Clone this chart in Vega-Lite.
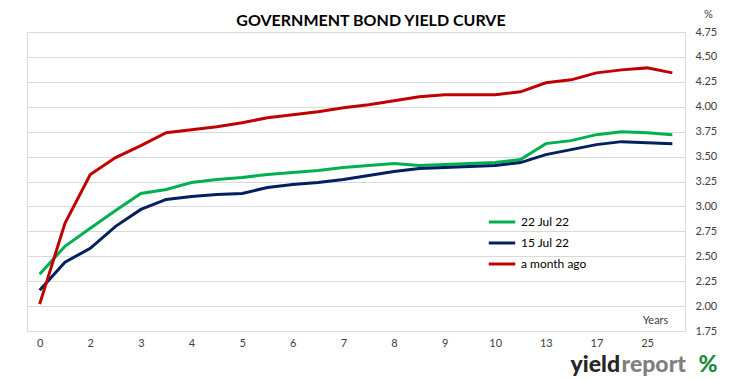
{
  "$schema": "https://vega.github.io/schema/vega-lite/v6.json",
  "width": 658,
  "height": 299,
  "autosize": {"type": "none"},
  "padding": {"left": 27, "top": 32, "right": 45, "bottom": 50},
  "background": "white",
  "config": {"view": {"stroke": "#d9d9d9", "strokeWidth": 1}, "font": "Lato"},
  "title": {"text": "GOVERNMENT BOND YIELD CURVE", "fontSize": 16, "fontWeight": "bold", "color": "#000000", "anchor": "middle", "dx": 15, "offset": -21, "font": "Lato"},
  "layer": [
    {
      "data": {"values": [
        {"term":"0","series":"22 Jul 22","yield":2.32},{"term":"1","series":"22 Jul 22","yield":2.60},{"term":"2","series":"22 Jul 22","yield":2.78},{"term":"2.5","series":"22 Jul 22","yield":2.96},{"term":"3","series":"22 Jul 22","yield":3.13},{"term":"3.5","series":"22 Jul 22","yield":3.17},{"term":"4","series":"22 Jul 22","yield":3.24},{"term":"4.5","series":"22 Jul 22","yield":3.27},{"term":"5","series":"22 Jul 22","yield":3.29},{"term":"5.5","series":"22 Jul 22","yield":3.32},{"term":"6","series":"22 Jul 22","yield":3.34},{"term":"6.5","series":"22 Jul 22","yield":3.36},{"term":"7","series":"22 Jul 22","yield":3.39},{"term":"7.5","series":"22 Jul 22","yield":3.41},{"term":"8","series":"22 Jul 22","yield":3.43},{"term":"8.5","series":"22 Jul 22","yield":3.41},{"term":"9","series":"22 Jul 22","yield":3.42},{"term":"9.5","series":"22 Jul 22","yield":3.43},{"term":"10","series":"22 Jul 22","yield":3.44},{"term":"11.5","series":"22 Jul 22","yield":3.47},{"term":"13","series":"22 Jul 22","yield":3.63},{"term":"15","series":"22 Jul 22","yield":3.66},{"term":"17","series":"22 Jul 22","yield":3.72},{"term":"20","series":"22 Jul 22","yield":3.75},{"term":"25","series":"22 Jul 22","yield":3.74},{"term":"30","series":"22 Jul 22","yield":3.72},
        {"term":"0","series":"15 Jul 22","yield":2.16},{"term":"1","series":"15 Jul 22","yield":2.44},{"term":"2","series":"15 Jul 22","yield":2.58},{"term":"2.5","series":"15 Jul 22","yield":2.80},{"term":"3","series":"15 Jul 22","yield":2.97},{"term":"3.5","series":"15 Jul 22","yield":3.07},{"term":"4","series":"15 Jul 22","yield":3.10},{"term":"4.5","series":"15 Jul 22","yield":3.12},{"term":"5","series":"15 Jul 22","yield":3.13},{"term":"5.5","series":"15 Jul 22","yield":3.19},{"term":"6","series":"15 Jul 22","yield":3.22},{"term":"6.5","series":"15 Jul 22","yield":3.24},{"term":"7","series":"15 Jul 22","yield":3.27},{"term":"7.5","series":"15 Jul 22","yield":3.31},{"term":"8","series":"15 Jul 22","yield":3.35},{"term":"8.5","series":"15 Jul 22","yield":3.38},{"term":"9","series":"15 Jul 22","yield":3.39},{"term":"9.5","series":"15 Jul 22","yield":3.40},{"term":"10","series":"15 Jul 22","yield":3.41},{"term":"11.5","series":"15 Jul 22","yield":3.44},{"term":"13","series":"15 Jul 22","yield":3.52},{"term":"15","series":"15 Jul 22","yield":3.57},{"term":"17","series":"15 Jul 22","yield":3.62},{"term":"20","series":"15 Jul 22","yield":3.65},{"term":"25","series":"15 Jul 22","yield":3.64},{"term":"30","series":"15 Jul 22","yield":3.63},
        {"term":"0","series":"a month ago","yield":2.02},{"term":"1","series":"a month ago","yield":2.83},{"term":"2","series":"a month ago","yield":3.32},{"term":"2.5","series":"a month ago","yield":3.49},{"term":"3","series":"a month ago","yield":3.61},{"term":"3.5","series":"a month ago","yield":3.74},{"term":"4","series":"a month ago","yield":3.77},{"term":"4.5","series":"a month ago","yield":3.80},{"term":"5","series":"a month ago","yield":3.84},{"term":"5.5","series":"a month ago","yield":3.89},{"term":"6","series":"a month ago","yield":3.92},{"term":"6.5","series":"a month ago","yield":3.95},{"term":"7","series":"a month ago","yield":3.99},{"term":"7.5","series":"a month ago","yield":4.02},{"term":"8","series":"a month ago","yield":4.06},{"term":"8.5","series":"a month ago","yield":4.10},{"term":"9","series":"a month ago","yield":4.12},{"term":"9.5","series":"a month ago","yield":4.12},{"term":"10","series":"a month ago","yield":4.12},{"term":"11.5","series":"a month ago","yield":4.15},{"term":"13","series":"a month ago","yield":4.24},{"term":"15","series":"a month ago","yield":4.27},{"term":"17","series":"a month ago","yield":4.34},{"term":"20","series":"a month ago","yield":4.37},{"term":"25","series":"a month ago","yield":4.39},{"term":"30","series":"a month ago","yield":4.34}
      ]},
      "mark": {"type": "line", "strokeWidth": 3},
      "encoding": {
        "x": {
          "field": "term", "type": "ordinal",
          "scale": {"type": "point", "padding": 0.5, "domain": ["0","1","2","2.5","3","3.5","4","4.5","5","5.5","6","6.5","7","7.5","8","8.5","9","9.5","10","11.5","13","15","17","20","25","30"]},
          "axis": {
            "orient": "bottom", "values": ["0","2","3","4","5","6","7","8","9","10","13","17","25"],
            "labelAngle": 0, "labelFontSize": 11, "labelColor": "#404040", "labelFont": "Lato",
            "ticks": false, "tickSize": 0, "labelPadding": 6,
            "domain": true, "domainColor": "#d9d9d9", "domainWidth": 1, "grid": false,
            "title": "Years", "titleX": 628, "titleY": -11, "titleAlign": "center", "titleBaseline": "middle",
            "titleFontSize": 11, "titleFontWeight": "normal", "titleColor": "#404040", "titleFont": "Lato"
          }
        },
        "y": {
          "field": "yield", "type": "quantitative",
          "scale": {"domain": [1.75, 4.75], "nice": false, "zero": false},
          "axis": {
            "orient": "right", "values": [1.75,2.0,2.25,2.5,2.75,3.0,3.25,3.5,3.75,4.0,4.25,4.5,4.75],
            "format": ".2f", "labelFontSize": 11, "labelColor": "#404040", "labelFont": "Lato",
            "ticks": false, "tickSize": 0, "labelPadding": 10, "domain": false,
            "grid": true, "gridColor": "#d9d9d9", "gridWidth": 1,
            "title": "%", "titleAngle": 0, "titleX": 23, "titleY": -18, "titleAlign": "center", "titleBaseline": "middle",
            "titleFontSize": 11, "titleFontWeight": "normal", "titleColor": "#404040", "titleFont": "Lato"
          }
        },
        "color": {
          "field": "series", "type": "nominal",
          "scale": {"domain": ["22 Jul 22","15 Jul 22","a month ago"], "range": ["#00b050","#002060","#c00000"]},
          "legend": {
            "orient": "none", "legendX": 460, "legendY": 175, "title": null, "padding": 0,
            "symbolType": "stroke", "symbolSize": 700, "symbolStrokeWidth": 3,
            "labelFontSize": 12, "labelColor": "#000000", "labelFont": "Lato", "labelOffset": 4, "rowPadding": -5
          }
        }
      }
    },
    {
      "data": {"values": [{"mark": "logo"}]},
      "mark": {"type": "point", "opacity": 0},
      "encoding": {
        "x": {"datum": 0, "type": "quantitative", "axis": {
          "orient": "top", "labels": false, "ticks": false, "domain": false, "grid": false,
          "title": "report", "titleX": 594, "titleY": 339, "titleAlign": "left", "titleBaseline": "alphabetic",
          "titleFontSize": 23, "titleFontWeight": 900, "titleColor": "#7f7f7f", "titleFont": "Lato"
        }},
        "y": {"datum": 0, "type": "quantitative", "axis": {
          "orient": "left", "labels": false, "ticks": false, "domain": false, "grid": false,
          "title": "yield", "titleAngle": 0, "titleX": 543, "titleY": 339, "titleAlign": "left", "titleBaseline": "alphabetic",
          "titleFontSize": 23, "titleFontWeight": 900, "titleColor": "#262626", "titleFont": "Lato"
        }}
      }
    },
    {
      "data": {"values": [{"mark": "logo"}]},
      "mark": {"type": "point", "opacity": 0},
      "encoding": {
        "y": {"datum": 0, "type": "quantitative", "axis": {
          "orient": "left", "labels": false, "ticks": false, "domain": false, "grid": false,
          "title": "%", "titleAngle": 0, "titleX": 671, "titleY": 339, "titleAlign": "left", "titleBaseline": "alphabetic",
          "titleFontSize": 23, "titleFontWeight": 900, "titleColor": "#1f8a3c", "titleFont": "Lato"
        }}
      }
    }
  ],
  "resolve": {"scale": {"x": "independent", "y": "independent"}}
}
